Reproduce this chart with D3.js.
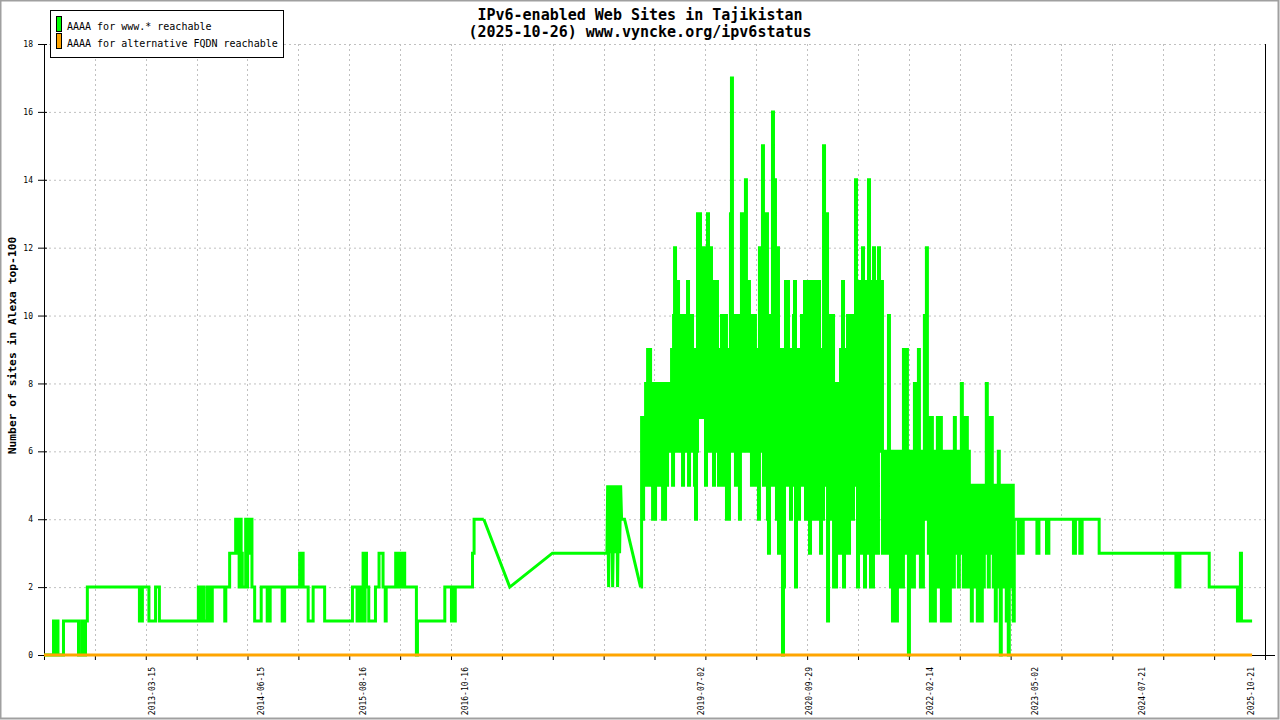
<!DOCTYPE html>
<html>
<head>
<meta charset="utf-8">
<title>IPv6-enabled Web Sites in Tajikistan</title>
<script src="https://d3js.org/d3.v7.min.js"></script>
<style>
  body { margin: 0; background: #fff; }
  text { font-family: 'DejaVu Sans Mono', monospace; fill: #000; }
  .grid line { stroke: #c0c0c0; stroke-width: 1; stroke-dasharray: 2,3; }
  .axis path, .axis line { stroke: #000; }
  .www { fill: none; stroke: #00ff00; stroke-width: 3; }
  .alt { fill: none; stroke: #ffa500; stroke-width: 3; }
</style>
</head>
<body>
<div id="chart"></div>
<script>
// ---- data (x as decimal years, y = number of sites) ----
var xDomainYears = [2011.967, 2025.964];
var yTicks = [0, 2, 4, 6, 8, 10, 12, 14, 16, 18];
var xLabelDates = ["2013-03-15", "2014-06-15", "2015-08-16", "2016-10-16", "2019-07-02",
                   "2020-09-29", "2022-02-14", "2023-05-02", "2024-07-21", "2025-10-21"];

// www.* reachable, 2012 - 2016 : value holds until next entry
var earlyRuns = [
  [2011.967,0],[2012.076,1],[2012.087,0],[2012.099,1],[2012.110,0],[2012.122,1],[2012.127,0],
  [2012.190,1],[2012.362,0],[2012.397,1],[2012.408,0],[2012.420,1],[2012.431,0],[2012.442,1],
  [2012.463,2],[2013.059,1],[2013.070,2],[2013.082,1],[2013.093,2],[2013.168,1],[2013.244,2],
  [2013.288,1],[2013.735,2],[2013.746,1],[2013.763,2],[2013.775,1],[2013.792,2],[2013.803,1],
  [2013.840,2],[2013.851,1],[2013.872,2],[2013.883,1],[2013.895,2],[2014.038,1],[2014.050,2],
  [2014.094,3],[2014.163,4],[2014.180,3],[2014.192,4],[2014.203,2],[2014.215,4],[2014.226,3],
  [2014.239,2],[2014.278,4],[2014.289,2],[2014.300,4],[2014.323,3],[2014.335,4],[2014.350,2],
  [2014.381,1],[2014.456,2],[2014.525,1],[2014.559,2],[2014.697,1],[2014.725,2],[2014.897,3],
  [2014.909,2],[2014.920,3],[2014.937,2],[2014.995,1],[2015.052,2],[2015.184,1],[2015.503,2],
  [2015.556,1],[2015.567,2],[2015.579,1],[2015.590,2],[2015.602,1],[2015.625,3],[2015.636,1],
  [2015.648,3],[2015.664,2],[2015.690,1],[2015.767,2],[2015.808,3],[2015.854,2],[2015.879,1],
  [2015.890,2],[2015.999,3],[2016.022,2],[2016.034,3],[2016.068,2],[2016.079,3],[2016.102,2],
  [2016.236,0],[2016.248,1],[2016.561,2],[2016.637,1],[2016.649,2],[2016.664,1],[2016.681,2],
  [2016.878,3],[2016.896,4],[2017.007,4]
];

// sparse samples 2017 - 2018, joined straight
var gapPoints = [
  [2017.007,4],[2017.305,2],[2017.794,3],[2018.420,3],[2018.428,5],[2018.439,2],[2018.451,5],
  [2018.462,3],[2018.474,5],[2018.485,2],[2018.497,4],[2018.508,5],[2018.520,3],[2018.531,5],
  [2018.542,2],[2018.554,5],[2018.565,3],[2018.577,5],[2018.588,4],[2018.622,4],[2018.806,2]
];

// busy period 2018-10 .. 2023-02, one reading every ~4 days
var denseStart = 2018.806;
var denseStepYears = 0.011455;
var denseValues = [
  2,7,4,7,5,8,5,9,5,9,
  5,8,4,7,4,8,5,7,5,8,
  5,8,4,8,4,7,5,8,6,8,
  6,9,5,10,12,6,6,11,6,10,
  7,10,5,9,6,10,6,11,5,10,
  6,10,6,9,5,4,6,13,8,13,
  7,12,8,12,7,5,12,13,6,12,
  12,6,10,5,11,6,11,6,5,9,
  7,10,5,9,6,10,4,8,4,9,
  13,17,6,7,10,5,9,6,10,4,
  6,13,6,9,6,14,9,6,11,6,
  10,5,9,6,10,5,9,6,4,12,
  12,6,15,5,5,9,13,4,3,10,
  5,9,16,5,14,12,4,12,3,9,
  4,9,0,2,7,11,5,11,5,9,
  4,9,5,10,11,2,5,9,4,8,
  5,10,5,10,11,4,11,5,11,3,
  10,4,11,6,4,10,11,4,11,5,
  3,9,4,15,5,5,13,1,10,4,
  10,4,10,2,8,2,8,3,8,3,
  9,4,11,2,5,9,3,10,3,10,
  4,10,4,8,5,14,6,2,11,4,
  11,3,12,5,2,11,3,11,14,4,
  2,11,2,12,5,3,11,3,12,6,
  6,11,3,6,3,6,3,6,10,4,
  2,6,1,6,1,5,1,6,2,5,
  2,6,2,9,4,3,9,4,0,3,
  6,2,6,2,8,4,3,6,9,4,
  2,6,2,6,10,4,12,5,3,7,
  1,7,2,6,1,6,2,7,4,2,
  7,1,6,2,5,1,6,2,5,1,
  6,2,5,2,7,3,3,6,2,6,
  3,8,4,2,7,3,7,2,6,3,
  5,1,5,2,5,2,4,1,5,2,
  4,1,5,2,5,3,8,4,2,7,
  3,7,4,2,5,1,5,2,6,3,
  0,4,5,2,5,4,1,5,0,3,
  5,2,5,1,4
];

// 2023 - 2025 : value holds until next entry
var lateRuns = [
  [2023.090,4],[2023.136,3],[2023.147,4],[2023.159,3],[2023.170,4],[2023.182,3],[2023.193,4],
  [2023.350,3],[2023.373,4],[2023.460,3],[2023.487,4],[2023.769,3],[2023.792,4],[2023.842,3],
  [2023.869,4],[2024.064,3],[2024.942,2],[2024.953,3],[2024.965,2],[2024.988,3],[2025.324,2],
  [2025.648,1],[2025.659,2],[2025.671,1],[2025.682,3],[2025.694,1],[2025.816,1]
];

// alternative FQDN reachable
var altYears = [2011.967, 2025.816];
var altValues = [0, 0];

// ---- helpers ----
function yearToDate(yv) {
  var yr = Math.floor(yv);
  var a = new Date(yr, 0, 1), b = new Date(yr + 1, 0, 1);
  return new Date(a.getTime() + (yv - yr) * (b - a));
}
function toPts(arr) {
  return arr.map(function(d) { return {date: yearToDate(d[0]), value: d[1]}; });
}

var svg = d3.select("#chart").append("svg").attr("width", 1280).attr("height", 720);

svg.append("rect").attr("x", 0.5).attr("y", 0.5).attr("width", 1278).attr("height", 718)
  .attr("fill", "#fff").attr("stroke", "#a0a0a0").attr("stroke-width", 2);

var margin = {top: 44, right: 15, bottom: 65, left: 44},
    width = 1280 - margin.left - margin.right,
    height = 720 - margin.top - margin.bottom;

var x = d3.scaleTime()
  .domain([yearToDate(xDomainYears[0]), yearToDate(xDomainYears[1])])
  .range([0, width]);
var y = d3.scaleLinear().domain([0, 18]).range([height, 0]);

var d0 = x.domain()[0], d1 = x.domain()[1];
var xTicks = d3.range(25).map(function(i) { return new Date(+d0 + (d1 - d0) * i / 24); });

var g = svg.append("g").attr("transform", "translate(" + margin.left + "," + margin.top + ")");

// grid
g.append("g").attr("class", "grid")
  .selectAll("line").data(yTicks.slice(1)).enter().append("line")
  .attr("x1", 0).attr("x2", width)
  .attr("y1", function(d) { return y(d) + 0.5; }).attr("y2", function(d) { return y(d) + 0.5; });
g.append("g").attr("class", "grid")
  .selectAll("line").data(xTicks.slice(1, -1)).enter().append("line")
  .attr("x1", function(d) { return Math.round(x(d)) + 0.5; })
  .attr("x2", function(d) { return Math.round(x(d)) + 0.5; })
  .attr("y1", 0).attr("y2", height);

// y axis (left) with ticks crossing the line
var yAxis = g.append("g").attr("class", "axis")
  .call(d3.axisLeft(y).tickValues(yTicks).tickSize(6).tickSizeOuter(0).tickPadding(5));
yAxis.selectAll(".tick line").attr("x1", 3);
yAxis.selectAll("text").attr("font-family", "'DejaVu Sans Mono', monospace").attr("font-size", 8);

// right border axis
g.append("line").attr("class", "axis")
  .attr("x1", width + 0.5).attr("x2", width + 0.5).attr("y1", 0).attr("y2", height)
  .attr("stroke", "#000");

// x axis
var xAxis = g.append("g").attr("class", "axis")
  .attr("transform", "translate(0," + height + ")")
  .call(d3.axisBottom(x).tickValues(xTicks).tickFormat("").tickSize(5).tickSizeOuter(0));
xAxis.select(".domain").remove();
xAxis.append("line").attr("x1", 0).attr("x2", width + 10).attr("y1", 0.5).attr("y2", 0.5)
  .attr("stroke", "#000");

var parseDate = d3.timeParse("%Y-%m-%d");
g.append("g").selectAll("text").data(xLabelDates).enter().append("text")
  .attr("transform", function(d) { return "translate(" + x(parseDate(d)) + "," + (height + 12) + ") rotate(-90)"; })
  .attr("text-anchor", "end").attr("dy", "0.35em").attr("font-size", 8)
  .text(function(d) { return d; });

// series
var stepLine = d3.line().curve(d3.curveStepAfter)
  .x(function(d) { return x(d.date); }).y(function(d) { return y(d.value); });
var straight = d3.line()
  .x(function(d) { return x(d.date); }).y(function(d) { return y(d.value); });

var densePts = denseValues.map(function(v, i) {
  return {date: yearToDate(denseStart + i * denseStepYears), value: v};
});

g.append("path").attr("class", "www").attr("d", stepLine(toPts(earlyRuns)));
g.append("path").attr("class", "www").attr("d", straight(toPts(gapPoints)));
g.append("path").attr("class", "www").attr("d", stepLine(densePts));
g.append("path").attr("class", "www").attr("d", stepLine(toPts(lateRuns)));

var altPts = altYears.map(function(yr, i) { return {date: yearToDate(yr), value: altValues[i]}; });
g.append("path").attr("class", "alt").attr("d", straight(altPts));

// titles
svg.append("text").attr("x", 640).attr("y", 19.5).attr("text-anchor", "middle")
  .attr("font-size", 15).attr("font-weight", "bold").text("IPv6-enabled Web Sites in Tajikistan");
svg.append("text").attr("x", 640).attr("y", 37).attr("text-anchor", "middle")
  .attr("font-size", 15).attr("font-weight", "bold").text("(2025-10-26) www.vyncke.org/ipv6status");

svg.append("text")
  .attr("transform", "translate(12," + (margin.top + height / 2 - 4) + ") rotate(-90)")
  .attr("text-anchor", "middle").attr("dy", "0.35em")
  .attr("font-size", 11.3).attr("font-weight", "bold")
  .text("Number of sites in Alexa top-100");

// legend
var legend = svg.append("g");
legend.append("rect").attr("x", 50.5).attr("y", 10.5).attr("width", 233).attr("height", 47)
  .attr("fill", "#fff").attr("stroke", "#000");
var legendItems = [
  {label: "AAAA for www.* reachable", color: "#00ff00"},
  {label: "AAAA for alternative FQDN reachable", color: "#ffa500"}
];
legendItems.forEach(function(d, i) {
  legend.append("rect").attr("x", 56.5).attr("y", 16.5 + i * 17).attr("width", 5).attr("height", 15)
    .attr("fill", d.color).attr("stroke", "#000");
  legend.append("text").attr("x", 67).attr("y", 29.5 + i * 17).attr("font-size", 10).text(d.label);
});
</script>
</body>
</html>
